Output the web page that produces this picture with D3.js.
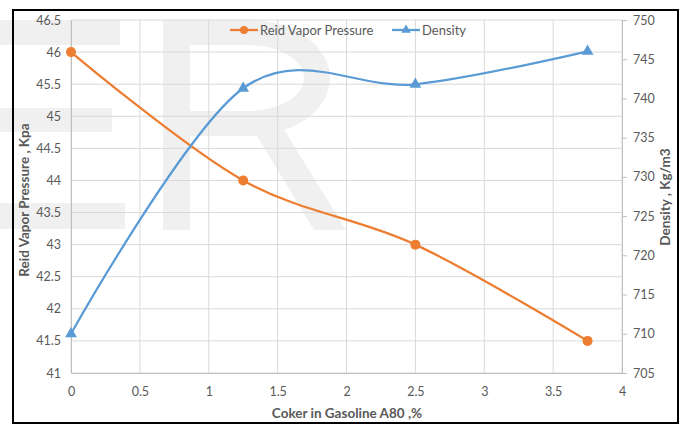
<!DOCTYPE html>
<html>
<head>
<meta charset="utf-8">
<script src="https://cdn.jsdelivr.net/npm/d3@7"></script>
<style>
  body { margin: 0; background: #fff; }
  text { font-family: Lato, "Open Sans", sans-serif; }
</style>
</head>
<body>
<div id="chart"></div>
<script>
// data
var coker = [0, 1.25, 2.5, 3.75];
var rvp = [46, 44, 43, 41.5];
var density = [710, 741.3, 741.8, 746];
var xTicks = [0, 0.5, 1, 1.5, 2, 2.5, 3, 3.5, 4];
var leftTicks = [41, 41.5, 42, 42.5, 43, 43.5, 44, 44.5, 45, 45.5, 46, 46.5];
var rightTicks = [705, 710, 715, 720, 725, 730, 735, 740, 745, 750];

var w = 686, h = 426;
var orange = "#ed7d31", blue = "#5b9bd5", txt = "#595959";

var svg = d3.select("#chart").append("svg")
  .attr("width", w).attr("height", h);

// faint watermark behind the chart
var wm = svg.append("g").attr("fill", "#f0f0f0");
wm.append("rect").attr("x", 0).attr("y", 20).attr("width", 120).attr("height", 25);
wm.append("rect").attr("x", 0).attr("y", 108).attr("width", 112).attr("height", 24);
wm.append("rect").attr("x", 0).attr("y", 203).attr("width", 125).attr("height", 26);
wm.append("path").attr("fill-rule", "evenodd")
  .attr("d", "M163,20 H248 A82,58 0 0 1 248,136 H190 V230 H163 Z M190,45 H248 A56,33 0 0 1 248,111 H190 Z");
wm.append("path").attr("d", "M252,128 L283,128 L346,230 L314,230 Z");

// frame
svg.append("rect").attr("x", 13).attr("y", 10).attr("width", 665).attr("height", 413)
  .attr("fill", "none").attr("stroke", "#000").attr("stroke-width", 2);

var x = d3.scaleLinear().domain([0, 4]).range([71, 622]);
var yL = d3.scaleLinear().domain([41, 46.5]).range([373, 20]);
var yR = d3.scaleLinear().domain([705, 750]).range([373, 20]);

// grid
svg.append("g").selectAll("line").data(leftTicks).enter().append("line")
  .attr("x1", 71).attr("x2", 622)
  .attr("y1", function(d) { return yL(d); }).attr("y2", function(d) { return yL(d); })
  .attr("stroke", "#d9d9d9");
svg.append("g").selectAll("line").data(xTicks).enter().append("line")
  .attr("y1", 20).attr("y2", 373)
  .attr("x1", function(d) { return x(d); }).attr("x2", function(d) { return x(d); })
  .attr("stroke", "#d9d9d9");

// axes
var fmt = function(d) { return String(d); };
var gx = svg.append("g").attr("transform", "translate(0,373)")
  .call(d3.axisBottom(x).tickValues(xTicks).tickFormat(fmt).tickSize(0).tickPadding(14));
var gl = svg.append("g").attr("transform", "translate(71,0)")
  .call(d3.axisLeft(yL).tickValues(leftTicks).tickFormat(fmt).tickSize(0).tickPadding(10));
var gr = svg.append("g").attr("transform", "translate(622,0)")
  .call(d3.axisRight(yR).tickValues(rightTicks).tickFormat(fmt).tickSize(5).tickPadding(6));
[gx, gl, gr].forEach(function(g) {
  g.select(".domain").attr("stroke", "#bfbfbf");
  g.selectAll(".tick line").attr("stroke", "#bfbfbf");
  g.selectAll("text").attr("fill", txt).attr("font-size", "12.5px")
    .attr("font-family", "Lato, 'Open Sans', sans-serif");
});

// axis titles
svg.append("text").attr("x", 347).attr("y", 418).attr("text-anchor", "middle")
  .attr("font-size", "13.5px").attr("font-weight", "bold").attr("fill", txt)
  .text("Coker in Gasoline A80 ,%");
svg.append("text").attr("transform", "translate(29,200) rotate(-90)").attr("text-anchor", "middle")
  .attr("font-size", "13.5px").attr("font-weight", "bold").attr("fill", txt)
  .text("Reid Vapor Pressure , Kpa");
svg.append("text").attr("transform", "translate(670,197) rotate(-90)").attr("text-anchor", "middle")
  .attr("font-size", "13.5px").attr("font-weight", "bold").attr("fill", txt)
  .text("Density , Kg/m3");

// series
var curve = d3.curveCardinal.tension(0);
var rvpLine = d3.line().curve(curve)
  .x(function(d, i) { return x(coker[i]); }).y(function(d) { return yL(d); });
var denLine = d3.line().curve(curve)
  .x(function(d, i) { return x(coker[i]); }).y(function(d) { return yR(d); });

svg.append("path").datum(rvp).attr("d", rvpLine)
  .attr("fill", "none").attr("stroke", orange).attr("stroke-width", 2.25);
svg.append("path").datum(density).attr("d", denLine)
  .attr("fill", "none").attr("stroke", blue).attr("stroke-width", 2.25);

svg.selectAll(".dot").data(rvp).enter().append("circle")
  .attr("class", "dot")
  .attr("cx", function(d, i) { return x(coker[i]); })
  .attr("cy", function(d) { return yL(d); })
  .attr("r", 5).attr("fill", orange);

var tri = d3.symbol().type(d3.symbolTriangle).size(60);
svg.selectAll(".tri").data(density).enter().append("path")
  .attr("class", "tri")
  .attr("transform", function(d, i) { return "translate(" + x(coker[i]) + "," + yR(d) + ")"; })
  .attr("d", tri).attr("fill", blue);

// legend
var lg = svg.append("g");
lg.append("line").attr("x1", 230).attr("x2", 258).attr("y1", 30).attr("y2", 30)
  .attr("stroke", orange).attr("stroke-width", 2.25);
lg.append("circle").attr("cx", 244).attr("cy", 30).attr("r", 4).attr("fill", orange);
lg.append("text").attr("x", 260).attr("y", 34.5).attr("font-size", "13px").attr("fill", txt)
  .text("Reid Vapor Pressure");
lg.append("line").attr("x1", 392).attr("x2", 420).attr("y1", 30).attr("y2", 30)
  .attr("stroke", blue).attr("stroke-width", 2.25);
lg.append("path").attr("transform", "translate(406,30)")
  .attr("d", d3.symbol().type(d3.symbolTriangle).size(40)).attr("fill", blue);
lg.append("text").attr("x", 422).attr("y", 34.5).attr("font-size", "13px").attr("fill", txt)
  .text("Density");
</script>
</body>
</html>
